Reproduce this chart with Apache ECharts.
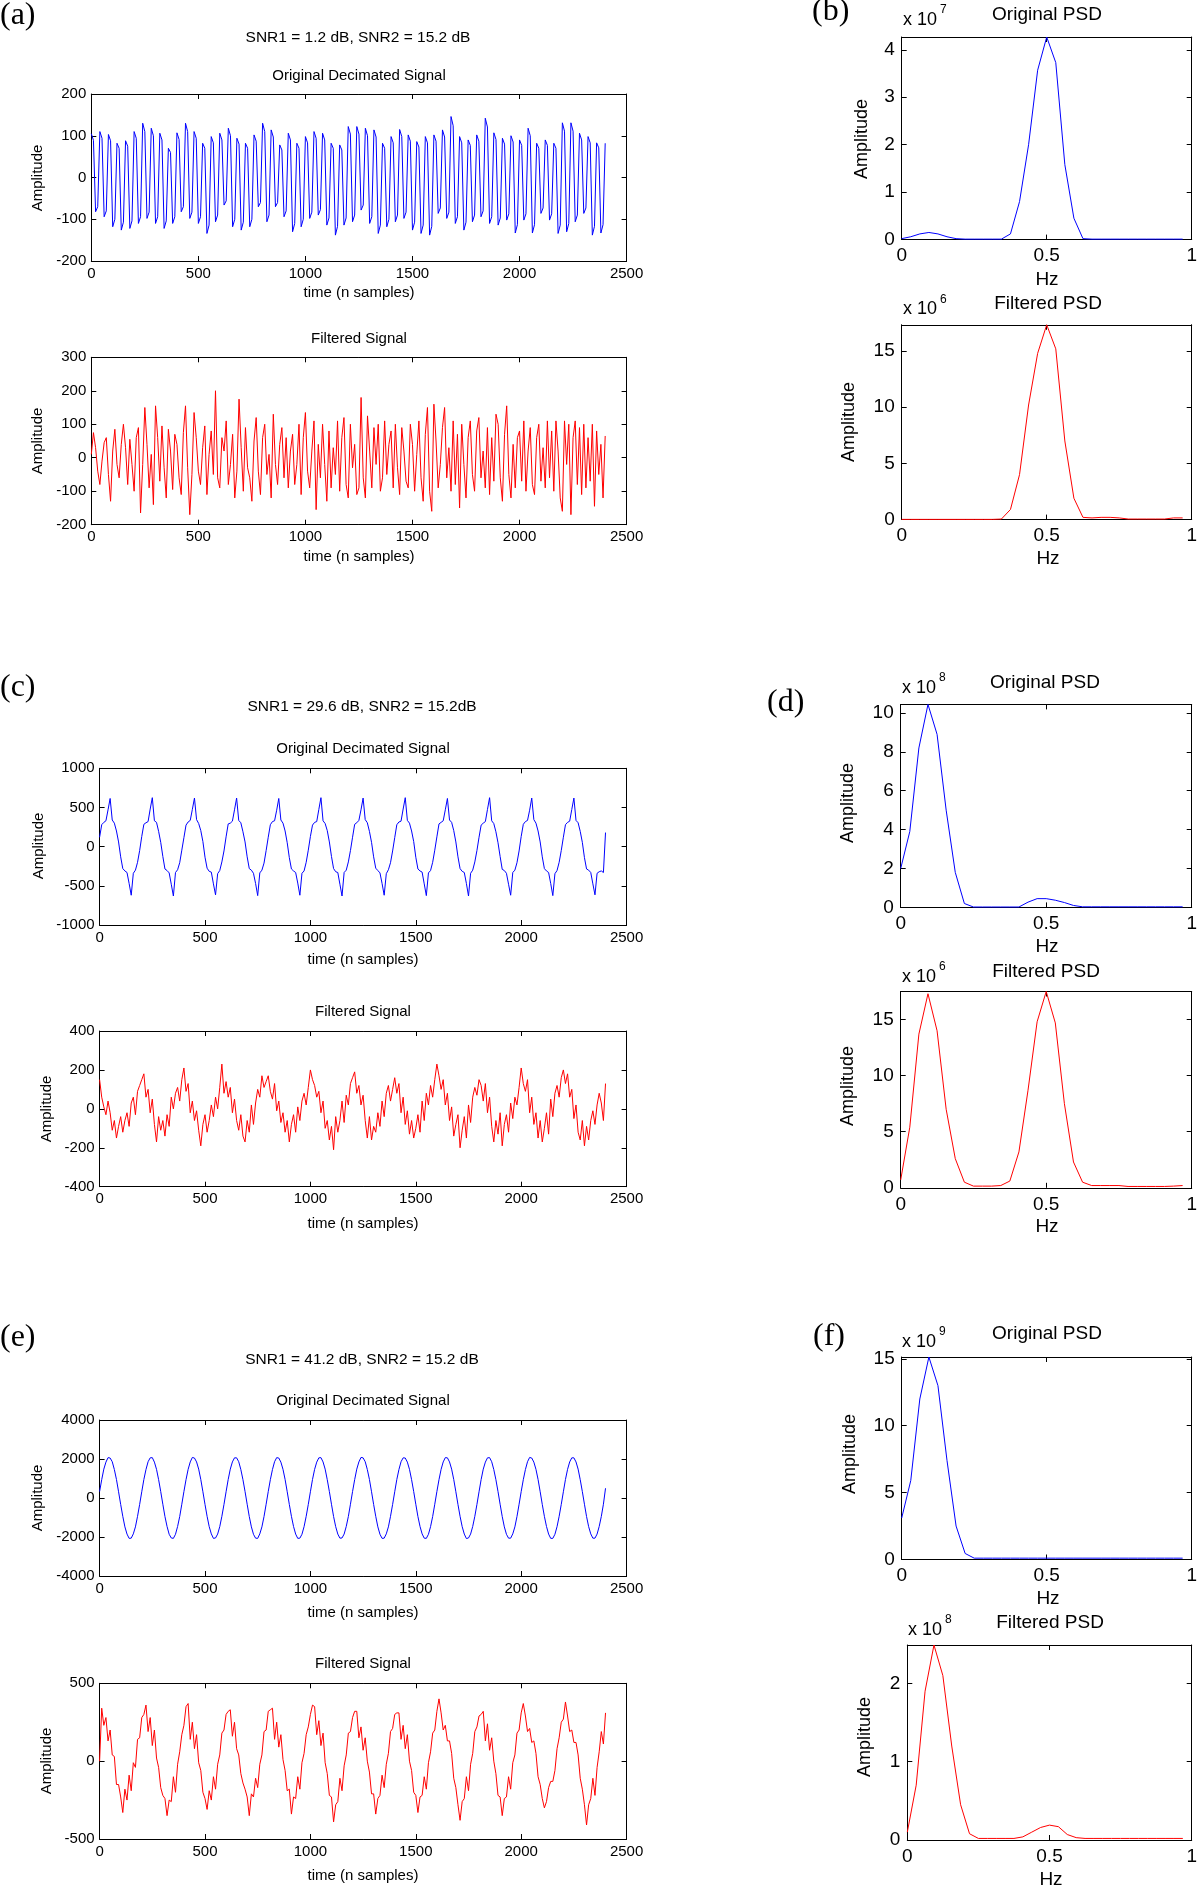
<!DOCTYPE html>
<html><head><meta charset="utf-8">
<script src="https://cdn.jsdelivr.net/npm/echarts@6/dist/echarts.min.js"></script>
<style>html,body{margin:0;padding:0;background:#fff}#c{width:1200px;height:1887px}</style>
</head><body><div id="c"></div><script>
// ---------- DATA ----------
// time signals: one value every 10 samples, t = 0..2400
const sampleStep = 10;
const aOrig = [105,89,-82,-70,110,94,-94,-80,103,88,-118,-100,82,70,-126,-107,88,75,-122,-104,110,94,-110,-94,130,110,-98,-83,118,100,-110,-94,106,90,-122,-104,70,60,-110,-94,
107,91,-82,-70,130,110,-98,-83,110,94,-110,-94,82,70,-134,-114,98,83,-106,-90,106,90,-66,-56,118,100,-118,-100,94,80,-126,-107,82,70,-118,-100,102,87,-70,-60,
130,110,-106,-90,114,97,-70,-60,78,66,-94,-80,106,90,-130,-110,82,70,-118,-100,98,83,-98,-83,110,94,-90,-77,106,90,-114,-97,82,70,-138,-117,78,66,-114,-97,
122,104,-106,-90,122,104,-78,-66,118,100,-110,-94,114,97,-134,-114,82,70,-118,-100,98,83,-106,-90,115,98,-98,-83,102,87,-126,-107,86,73,-134,-114,98,83,-138,-117,
102,87,-86,-73,114,97,-98,-83,146,124,-110,-94,98,83,-126,-107,90,77,-106,-90,102,87,-94,-80,142,121,-110,-94,107,91,-114,-97,94,80,-102,-87,100,85,-133,-113,
90,77,-102,-87,118,100,-133,-113,82,70,-86,-73,90,77,-102,-87,82,70,-134,-114,131,111,-130,-110,131,111,-106,-90,106,90,-86,-73,98,83,-138,-117,83,71,-133,-113,82];
const aFilt = [10,75,30,-40,-80,-10,45,60,-50,-130,20,85,-20,-60,40,100,30,-80,55,-20,
-100,60,90,-165,-20,150,40,-90,10,-140,155,60,-70,95,-30,-120,85,20,-95,70,
40,-60,-110,75,155,-30,-170,-50,135,60,-40,-80,30,95,-110,10,80,-50,200,-60,
-90,60,20,110,-80,-20,70,-120,-40,175,30,-100,90,-30,-60,-130,50,120,-40,-110,
60,100,-50,10,-120,130,-20,-80,40,90,-60,60,-90,20,70,-80,-20,100,-110,60,
135,-40,-90,20,110,-155,40,-60,100,-20,-130,80,-90,30,-50,110,-100,60,120,-80,
-120,100,-30,40,-110,-90,180,-60,-120,125,20,-90,90,-20,100,-100,-60,110,-50,40,
80,-90,100,-30,-110,90,20,-70,-90,100,40,-100,10,110,-60,-130,70,150,-100,-160,
160,50,-90,-20,90,150,-60,30,-100,110,-80,70,-150,100,-20,-120,60,110,-50,-100,
80,120,-60,20,-90,90,-110,60,-70,130,100,-60,-130,70,155,-50,-120,40,-90,60,
80,-70,110,-100,20,90,-80,-110,60,100,-70,30,-90,110,-60,80,-100,110,20,-120,
-160,110,-20,100,-170,60,110,-80,90,-110,100,-90,60,-70,100,-145,80,-50,40,-120,65];
const cOrig = [120,280,310,330,470,615,340,300,200,60,-130,-280,-310,-330,-470,-620,-340,-300,-200,-50,
130,285,305,320,480,625,330,310,195,55,-125,-285,-305,-335,-480,-630,-330,-295,-205,-45,
115,275,315,335,475,620,345,295,205,65,-135,-275,-315,-325,-475,-615,-345,-305,-195,-55,
125,290,300,325,470,620,335,305,190,60,-130,-280,-300,-340,-470,-625,-335,-300,-210,-50,
120,280,320,330,465,615,340,300,200,50,-140,-285,-310,-330,-465,-620,-340,-310,-200,-45,
130,275,310,320,475,625,330,295,205,60,-125,-280,-320,-330,-480,-630,-330,-300,-195,-50,
120,285,305,335,470,620,345,305,195,55,-130,-275,-305,-335,-470,-620,-345,-295,-205,-55,
115,280,315,325,480,625,335,300,200,65,-135,-285,-310,-325,-475,-625,-335,-305,-200,-45,
125,290,310,330,470,615,340,310,205,60,-130,-280,-315,-330,-470,-630,-340,-300,-195,-50,
120,275,300,320,475,625,330,295,190,50,-125,-290,-305,-340,-480,-620,-330,-300,-205,-55,
130,285,320,335,465,620,345,300,200,60,-130,-280,-310,-330,-470,-625,-345,-305,-200,-50,
120,280,310,325,475,620,335,305,195,55,-140,-285,-300,-330,-475,-615,-340,-320,-310,-330,180];
const cFilt = [150,60,10,-30,40,-20,-110,-60,-150,-90,-40,-120,-60,-20,-90,30,60,-30,90,120,
150,180,60,100,-20,50,-80,-170,-40,-110,-60,-140,-30,-90,60,0,80,110,40,150,
210,90,130,-20,40,-60,-10,-110,-190,-80,-30,-120,-60,20,-40,60,0,110,230,80,
140,60,110,-20,50,-60,-110,-30,-140,-170,-60,-120,20,-80,30,100,60,170,110,140,
170,90,50,130,-10,40,-70,-20,-120,-60,-170,-80,-30,-120,10,-60,40,80,20,110,
200,150,120,60,90,-20,40,-100,-60,-160,-90,-210,-40,-120,-60,40,-70,70,20,130,
160,190,80,120,20,70,-60,-150,-40,-160,-90,-120,-20,-90,40,-40,80,120,40,100,
160,80,130,-20,60,-80,-10,-130,-60,-150,-100,-30,-120,40,-60,80,20,120,60,150,
230,170,100,150,20,80,-60,10,-140,-80,-30,-200,-110,-40,-150,20,-70,60,110,70,
150,120,40,130,-20,60,-90,-170,-60,-130,-20,-190,-80,-30,-120,30,-50,60,20,110,
210,130,90,150,-20,60,-80,-20,-150,-60,-170,-100,-20,-130,50,-40,80,120,60,160,
200,130,180,60,100,-50,20,-120,-160,-60,-190,-90,-160,-60,-10,-80,20,80,30,-60,130];
const eOrig = [330,940,1480,1840,2070,2050,1860,1460,950,320,-330,-940,-1480,-1850,-2070,-2060,-1840,-1480,-940,-330,
320,950,1460,1860,2060,2070,1840,1470,940,330,-320,-950,-1460,-1860,-2050,-2070,-1860,-1460,-950,-320,
330,940,1470,1850,2080,2050,1850,1480,950,320,-330,-940,-1470,-1840,-2070,-2050,-1850,-1470,-940,-330,
320,950,1480,1850,2060,2060,1860,1460,940,330,-320,-950,-1480,-1860,-2060,-2070,-1840,-1480,-950,-320,
330,940,1460,1860,2070,2050,1840,1470,950,320,-330,-940,-1460,-1850,-2070,-2060,-1860,-1470,-940,-330,
320,950,1470,1840,2060,2070,1850,1480,940,330,-320,-950,-1470,-1850,-2060,-2050,-1850,-1460,-950,-320,
330,940,1480,1850,2080,2060,1860,1460,950,320,-330,-940,-1480,-1860,-2070,-2060,-1840,-1480,-940,-330,
320,950,1460,1860,2060,2050,1840,1470,940,330,-320,-950,-1460,-1840,-2060,-2070,-1860,-1470,-950,-320,
330,940,1470,1850,2070,2060,1850,1480,950,320,-330,-940,-1470,-1850,-2080,-2050,-1850,-1460,-940,-330,
320,950,1480,1840,2060,2070,1860,1460,940,330,-320,-950,-1480,-1860,-2060,-2060,-1840,-1480,-950,-320,
330,940,1460,1860,2080,2050,1840,1470,950,320,-330,-940,-1460,-1850,-2070,-2070,-1860,-1470,-940,-330,
320,950,1470,1850,2060,2060,1850,1480,940,330,-320,-950,-1470,-1840,-2060,-2060,-1850,-1460,-950,-320,500];
const eFilt = [0,340,230,280,130,200,40,30,-150,-150,-230,-330,-180,-250,-90,-190,-10,-40,140,150,
280,300,360,190,280,100,200,20,-40,-170,-220,-240,-350,-250,-260,-100,-200,-20,60,170,
230,350,370,140,250,80,170,-10,-60,-200,-240,-310,-190,-250,-100,-180,-20,40,180,200,
300,320,330,160,250,80,40,-80,-140,-180,-230,-350,-210,-230,-110,-170,-20,40,190,200,
320,330,340,140,250,90,170,10,-60,-190,-180,-340,-230,-240,-100,-180,-10,50,170,220,
300,360,350,170,260,100,180,-10,-80,-220,-230,-390,-280,-260,-110,-190,-30,40,180,190,
280,320,320,150,220,70,150,0,-70,-210,-210,-340,-240,-220,-90,-170,-20,50,190,210,
300,310,310,140,230,80,170,0,-60,-200,-220,-330,-230,-220,-100,-180,-10,60,180,200,
320,400,310,200,230,130,130,50,-110,-170,-280,-380,-260,-240,-100,-190,-20,50,190,220,
290,300,320,130,240,70,150,0,-80,-220,-230,-350,-240,-230,-100,-180,-10,40,180,200,
310,370,290,190,210,120,130,50,-100,-150,-240,-300,-260,-170,-130,-130,-60,80,150,250,
270,380,290,190,200,120,120,40,-110,-180,-280,-410,-280,-240,-110,-220,-40,60,190,110,310];

// PSD: normalised frequency (Hz axis) and amplitudes (in units of the x10^n factor)
const psdFreq = [0,0.03125,0.0625,0.09375,0.125,0.15625,0.1875,0.21875,0.25,0.28125,0.3125,0.34375,0.375,0.40625,0.4375,0.46875,
0.5,0.53125,0.5625,0.59375,0.625,0.65625,0.6875,0.71875,0.75,0.78125,0.8125,0.84375,0.875,0.90625,0.9375,0.96875];
const bOrig = [0.02,0.06,0.12,0.15,0.12,0.06,0.02,0.01,0.01,0.01,0.01,0.01,0.12,0.8,2.0,3.57,4.27,3.73,1.58,0.45,0.02,0.01,0.01,0.01,0.01,0.01,0.01,0.01,0.01,0.01,0.01,0.01];
const bFilt = [0.02,0.02,0.02,0.02,0.02,0.02,0.02,0.02,0.02,0.02,0.02,0.05,0.9,4.0,10.2,14.8,17.34,15.2,7.0,1.9,0.2,0.15,0.2,0.2,0.15,0.05,0.05,0.05,0.05,0.05,0.15,0.15];
const dOrig = [2.0,3.9,8.2,10.44,8.9,5.0,1.8,0.2,0.02,0.02,0.02,0.02,0.02,0.02,0.27,0.45,0.45,0.37,0.25,0.1,0.03,0.03,0.03,0.03,0.03,0.03,0.03,0.03,0.03,0.03,0.03,0.03];
const dFilt = [0.7,5.4,13.7,17.3,14.0,7.0,2.6,0.5,0.15,0.15,0.15,0.2,0.6,3.2,8.7,14.8,17.5,14.7,7.5,2.3,0.5,0.2,0.2,0.2,0.2,0.12,0.12,0.12,0.12,0.12,0.15,0.2];
const fOrig = [3.1,5.9,12.0,15.14,13.0,7.4,2.5,0.45,0.1,0.1,0.1,0.1,0.1,0.1,0.1,0.1,0.1,0.1,0.1,0.1,0.1,0.1,0.1,0.1,0.1,0.1,0.1,0.1,0.1,0.1,0.1,0.1];
const fFilt = [0.1,0.7,1.9,2.49,2.1,1.2,0.45,0.08,0.02,0.02,0.02,0.02,0.02,0.04,0.1,0.16,0.19,0.17,0.07,0.03,0.02,0.02,0.02,0.02,0.02,0.02,0.02,0.02,0.02,0.02,0.02,0.02];

// axis tick settings [min, max, interval]
const timeTicks = [0, 2500, 500];
const psdXTicks = [0, 1, 0.5];

// ---------- LAYOUT / STYLE ----------
const SANS = '"Liberation Sans", Arial, Helvetica, sans-serif';
const SERIF = '"Liberation Serif", "Times New Roman", serif';
const BLUE = '#0000ff', RED = '#ff0000';

const panels = [
  {kind:'time', rect:[91.3,94,535.3,167],    y:[-200,200,100],  data:aOrig, color:BLUE},
  {kind:'time', rect:[91.3,357.3,535.3,167.4],y:[-200,300,100], data:aFilt, color:RED},
  {kind:'time', rect:[99.6,768.3,527,156.7], y:[-1000,1000,500],data:cOrig, color:BLUE},
  {kind:'time', rect:[99.6,1031,527,155.7],  y:[-400,400,200],  data:cFilt, color:RED},
  {kind:'time', rect:[99.6,1420,527,156],    y:[-4000,4000,2000],data:eOrig,color:BLUE},
  {kind:'time', rect:[99.6,1683.3,527,155.7],y:[-500,500,500],  data:eFilt, color:RED},
  {kind:'psd',  rect:[901.7,37,293.3,202.6],  yint:1, data:bOrig, color:BLUE},
  {kind:'psd',  rect:[901.7,324.8,293.3,194.8],yint:5, data:bFilt, color:RED},
  {kind:'psd',  rect:[900.7,704.4,292.6,203], yint:2, data:dOrig, color:BLUE},
  {kind:'psd',  rect:[900.7,991.5,292.6,196.3],yint:5, data:dFilt, color:RED},
  {kind:'psd',  rect:[901.7,1357,293.3,202.5],yint:5, data:fOrig, color:BLUE},
  {kind:'psd',  rect:[907.3,1645,287.7,195],  yint:1, data:fFilt, color:RED}
];

const grids=[], xAxes=[], yAxes=[], series=[];
function axisBase(pos, gi, min, max, interval, fs, margin, showLabel, hideMax){
  return {
    type:'value', gridIndex:gi, position:pos, min:min, max:max, interval:interval,
    axisLine:{show:true, onZero:false, lineStyle:{color:'#000', width:1}},
    axisTick:{show:true, inside:true, length:5, lineStyle:{color:'#000', width:1}},
    splitLine:{show:false},
    axisLabel:{show:showLabel, color:'#000', fontFamily:SANS, fontSize:fs, margin:margin,
      formatter: v => String(v),
      showMaxLabel: hideMax ? false : null, showMinLabel:true, hideOverlap:false},
    silent:true
  };
}
panels.forEach((p, i) => {
  grids.push({left:p.rect[0], top:p.rect[1], width:p.rect[2], height:p.rect[3], containLabel:false});
  let pts, xr, yr, fs, mg, hideMax;
  if (p.kind === 'time') {
    pts = p.data.map((v, k) => [k * sampleStep, v]);
    xr = timeTicks; yr = p.y; fs = 15; mg = 5; hideMax = false;
  } else {
    pts = p.data.map((v, k) => [psdFreq[k], v]);
    xr = psdXTicks; yr = [0, Math.max.apply(null, p.data), p.yint]; fs = 19; mg = 7; hideMax = true;
  }
  xAxes.push(axisBase('bottom', i, xr[0], xr[1], xr[2], fs, mg, true, false));
  xAxes.push(axisBase('top', i, xr[0], xr[1], xr[2], fs, mg, false, false));
  yAxes.push(axisBase('left', i, yr[0], yr[1], yr[2], fs, mg, true, hideMax));
  yAxes.push(axisBase('right', i, yr[0], yr[1], yr[2], fs, mg, false, hideMax));
  series.push({type:'line', xAxisIndex:2*i, yAxisIndex:2*i, data:pts, showSymbol:false, symbol:'none',
    lineStyle:{color:p.color, width:1}, itemStyle:{color:p.color}, silent:true, animation:false, clip:true});
});

// text labels: [text, x, y, size, family, align, rotated]
const texts = [
  ['(a)',0,16,32,SERIF,'left',false], ['(b)',812,12,32,SERIF,'left',false],
  ['(c)',0,688,32,SERIF,'left',false], ['(d)',767,703,32,SERIF,'left',false],
  ['(e)',0,1338,32,SERIF,'left',false], ['(f)',813,1337,32,SERIF,'left',false],
  ['SNR1 = 1.2 dB, SNR2 = 15.2 dB',358,38,15.5,SANS,'center',false],
  ['SNR1 = 29.6 dB, SNR2 = 15.2dB',362,707,15.5,SANS,'center',false],
  ['SNR1 = 41.2 dB, SNR2 = 15.2 dB',362,1360,15.5,SANS,'center',false],
  ['Original Decimated Signal',359,76,15,SANS,'center',false],
  ['Filtered Signal',359,339,15,SANS,'center',false],
  ['Original Decimated Signal',363,749,15,SANS,'center',false],
  ['Filtered Signal',363,1012,15,SANS,'center',false],
  ['Original Decimated Signal',363,1401,15,SANS,'center',false],
  ['Filtered Signal',363,1664,15,SANS,'center',false],
  ['time (n samples)',359,293,15,SANS,'center',false],
  ['time (n samples)',359,557,15,SANS,'center',false],
  ['time (n samples)',363,960,15,SANS,'center',false],
  ['time (n samples)',363,1224,15,SANS,'center',false],
  ['time (n samples)',363,1613,15,SANS,'center',false],
  ['time (n samples)',363,1876,15,SANS,'center',false],
  ['Amplitude',38,178,15,SANS,'center',true],
  ['Amplitude',38,441,15,SANS,'center',true],
  ['Amplitude',39,846,15,SANS,'center',true],
  ['Amplitude',47,1109,15,SANS,'center',true],
  ['Amplitude',38,1498,15,SANS,'center',true],
  ['Amplitude',47,1761,15,SANS,'center',true],
  ['Original PSD',1047,15,19,SANS,'center',false],
  ['Filtered PSD',1048,304,19,SANS,'center',false],
  ['Original PSD',1045,683,19,SANS,'center',false],
  ['Filtered PSD',1046,972,19,SANS,'center',false],
  ['Original PSD',1047,1334,19,SANS,'center',false],
  ['Filtered PSD',1050,1623,19,SANS,'center',false],
  ['Hz',1047,280,19,SANS,'center',false],
  ['Hz',1048,559,19,SANS,'center',false],
  ['Hz',1047,947,19,SANS,'center',false],
  ['Hz',1047,1227,19,SANS,'center',false],
  ['Hz',1048,1599,19,SANS,'center',false],
  ['Hz',1051,1880,19,SANS,'center',false],
  ['Amplitude',862,139,18,SANS,'center',true],
  ['Amplitude',849,422,18,SANS,'center',true],
  ['Amplitude',848,803,18,SANS,'center',true],
  ['Amplitude',848,1086,18,SANS,'center',true],
  ['Amplitude',850,1454,18,SANS,'center',true],
  ['Amplitude',865,1737,18,SANS,'center',true],
  ['x 10',903,20,18,SANS,'left',false], ['7',940,10,12,SANS,'left',false],
  ['x 10',903,309,18,SANS,'left',false], ['6',940,300,12,SANS,'left',false],
  ['x 10',902,688,18,SANS,'left',false], ['8',939,678,12,SANS,'left',false],
  ['x 10',902,977,18,SANS,'left',false], ['6',939,967,12,SANS,'left',false],
  ['x 10',902,1342,18,SANS,'left',false], ['9',939,1332,12,SANS,'left',false],
  ['x 10',908,1630,18,SANS,'left',false], ['8',945,1620,12,SANS,'left',false]
];
const graphics = texts.map(t => ({
  type:'text', x:t[1], y:t[2], rotation: t[6] ? Math.PI/2 : 0, silent:true,
  style:{text:t[0], fill:'#000', font: t[3] + 'px ' + t[4], fontSize:t[3], fontFamily:t[4],
    align:t[5], textAlign:t[5], verticalAlign:'middle', textVerticalAlign:'middle'}
}));

const chart = echarts.init(document.getElementById('c'), null, {renderer:'canvas', width:1200, height:1887});
chart.setOption({
  animation:false, backgroundColor:'#fff',
  grid:grids, xAxis:xAxes, yAxis:yAxes, series:series,
  graphic:{elements:graphics}
});
</script></body></html>
